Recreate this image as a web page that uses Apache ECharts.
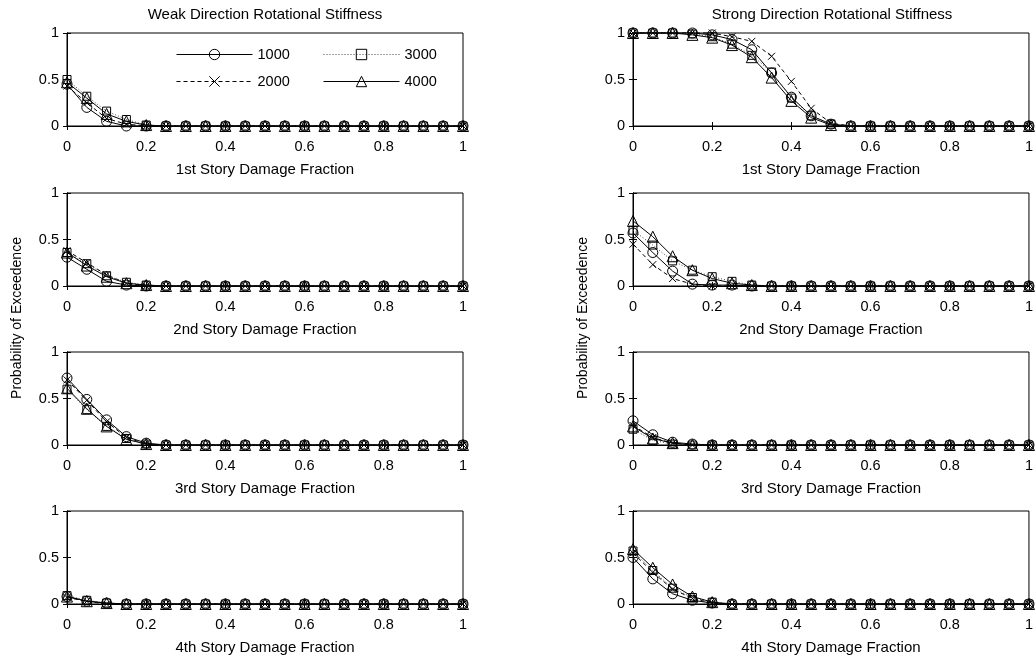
<!DOCTYPE html>
<html><head><meta charset="utf-8">
<script src="https://cdn.jsdelivr.net/npm/echarts@6/dist/echarts.min.js"></script>
<style>html,body{margin:0;padding:0;background:#fff}#c{width:1036px;height:660px}</style>
</head><body><div id="c"></div>
<script>
const damageFraction = [0,0.05,0.1,0.15,0.2,0.25,0.3,0.35,0.4,0.45,0.5,0.55,0.6,0.65,0.7,0.75,0.8,0.85,0.9,0.95,1];
const seriesNames = ['1000','2000','3000','4000'];
const storyLabels = ['1st Story Damage Fraction','2nd Story Damage Fraction','3rd Story Damage Fraction','4th Story Damage Fraction'];
const columnTitles = ['Weak Direction Rotational Stiffness','Strong Direction Rotational Stiffness'];
const yAxisLabel = 'Probability of Exceedence';

const weak1_1000 = [0.45,0.20,0.05,0.00,0,0,0,0,0,0,0,0,0,0,0,0,0,0,0,0,0];
const weak1_2000 = [0.43,0.25,0.08,0.02,0,0,0,0,0,0,0,0,0,0,0,0,0,0,0,0,0];
const weak1_3000 = [0.50,0.32,0.16,0.07,0.01,0,0,0,0,0,0,0,0,0,0,0,0,0,0,0,0];
const weak1_4000 = [0.47,0.30,0.13,0.05,0.01,0,0,0,0,0,0,0,0,0,0,0,0,0,0,0,0];

const strong1_1000 = [1,1,1,1,0.98,0.93,0.82,0.57,0.31,0.11,0.02,0,0,0,0,0,0,0,0,0,0];
const strong1_2000 = [1,1,1,1,1,0.96,0.91,0.75,0.48,0.19,0.03,0,0,0,0,0,0,0,0,0,0];
const strong1_3000 = [1,1,1,0.99,0.96,0.88,0.76,0.58,0.30,0.11,0.02,0,0,0,0,0,0,0,0,0,0];
const strong1_4000 = [1,1,1,0.98,0.95,0.87,0.74,0.52,0.27,0.09,0.01,0,0,0,0,0,0,0,0,0,0];

const weak2_1000 = [0.31,0.18,0.05,0.01,0,0,0,0,0,0,0,0,0,0,0,0,0,0,0,0,0];
const weak2_2000 = [0.38,0.25,0.12,0.03,0,0,0,0,0,0,0,0,0,0,0,0,0,0,0,0,0];
const weak2_3000 = [0.36,0.24,0.11,0.04,0.01,0,0,0,0,0,0,0,0,0,0,0,0,0,0,0,0];
const weak2_4000 = [0.36,0.22,0.10,0.03,0.01,0,0,0,0,0,0,0,0,0,0,0,0,0,0,0,0];

const strong2_1000 = [0.57,0.36,0.16,0.02,0.01,0.01,0,0,0,0,0,0,0,0,0,0,0,0,0,0,0];
const strong2_2000 = [0.45,0.23,0.08,0.02,0,0,0,0,0,0,0,0,0,0,0,0,0,0,0,0,0];
const strong2_3000 = [0.60,0.44,0.27,0.17,0.10,0.05,0.01,0,0,0,0,0,0,0,0,0,0,0,0,0,0];
const strong2_4000 = [0.70,0.53,0.32,0.17,0.08,0.03,0.01,0,0,0,0,0,0,0,0,0,0,0,0,0,0];

const weak3_1000 = [0.72,0.49,0.27,0.09,0.02,0,0,0,0,0,0,0,0,0,0,0,0,0,0,0,0];
const weak3_2000 = [0.70,0.48,0.25,0.08,0.01,0,0,0,0,0,0,0,0,0,0,0,0,0,0,0,0];
const weak3_3000 = [0.60,0.38,0.20,0.07,0.01,0,0,0,0,0,0,0,0,0,0,0,0,0,0,0,0];
const weak3_4000 = [0.61,0.39,0.20,0.06,0.01,0,0,0,0,0,0,0,0,0,0,0,0,0,0,0,0];

const strong3_1000 = [0.26,0.11,0.03,0.01,0,0,0,0,0,0,0,0,0,0,0,0,0,0,0,0,0];
const strong3_2000 = [0.21,0.08,0.02,0,0,0,0,0,0,0,0,0,0,0,0,0,0,0,0,0,0];
const strong3_3000 = [0.17,0.05,0.01,0,0,0,0,0,0,0,0,0,0,0,0,0,0,0,0,0,0];
const strong3_4000 = [0.20,0.07,0.02,0,0,0,0,0,0,0,0,0,0,0,0,0,0,0,0,0,0];

const weak4_1000 = [0.08,0.03,0.01,0,0,0,0,0,0,0,0,0,0,0,0,0,0,0,0,0,0];
const weak4_2000 = [0.07,0.03,0,0,0,0,0,0,0,0,0,0,0,0,0,0,0,0,0,0,0];
const weak4_3000 = [0.09,0.04,0.01,0,0,0,0,0,0,0,0,0,0,0,0,0,0,0,0,0,0];
const weak4_4000 = [0.08,0.03,0.01,0,0,0,0,0,0,0,0,0,0,0,0,0,0,0,0,0,0];

const strong4_1000 = [0.50,0.27,0.11,0.04,0.01,0,0,0,0,0,0,0,0,0,0,0,0,0,0,0,0];
const strong4_2000 = [0.55,0.34,0.16,0.06,0.01,0,0,0,0,0,0,0,0,0,0,0,0,0,0,0,0];
const strong4_3000 = [0.57,0.36,0.17,0.07,0.02,0,0,0,0,0,0,0,0,0,0,0,0,0,0,0,0];
const strong4_4000 = [0.59,0.39,0.21,0.08,0.02,0,0,0,0,0,0,0,0,0,0,0,0,0,0,0,0];

const panels = [
  [weak1_1000, weak1_2000, weak1_3000, weak1_4000],
  [strong1_1000, strong1_2000, strong1_3000, strong1_4000],
  [weak2_1000, weak2_2000, weak2_3000, weak2_4000],
  [strong2_1000, strong2_2000, strong2_3000, strong2_4000],
  [weak3_1000, weak3_2000, weak3_3000, weak3_4000],
  [strong3_1000, strong3_2000, strong3_3000, strong3_4000],
  [weak4_1000, weak4_2000, weak4_3000, weak4_4000],
  [strong4_1000, strong4_2000, strong4_3000, strong4_4000]
];

const FONT = '"Liberation Sans", Arial, Helvetica, sans-serif';
const FS_TICK = 14.5, FS_NAME = 15, FS_TITLE = 15, FS_YLAB = 14;
const gridTops = [33, 193, 352, 511];
const gridH = 93;
const colLeft = [67, 633];
const colW = [396, 398];

const styles = [
  {symbol:'circle', size:10, type:'solid', color:'#000'},
  {symbol:'path://M0,0L10,10M10,0L0,10', size:7, type:[4, 3], color:'#000'},
  {symbol:'rect', size:8, type:[1, 2], color:'#444'},
  {symbol:'triangle', size:11, type:'solid', color:'#000'}
];

const grid = [], xAxis = [], yAxis = [], series = [];
panels.forEach((p, i) => {
  const r = Math.floor(i / 2), c = i % 2;
  grid.push({left: colLeft[c], top: gridTops[r], width: colW[c], height: gridH,
    show: true, borderColor: '#000', borderWidth: 1, backgroundColor: 'transparent'});
  const axisLine = {show: true, lineStyle: {color: '#000', width: 1}};
  const tick = {show: true, inside: true, length: 4, lineStyle: {color: '#000'}};
  xAxis.push({type: 'value', gridIndex: i, min: 0, max: 1, interval: 0.2, position: 'bottom',
    axisLine, axisTick: tick,
    axisLabel: {color: '#000', fontSize: FS_TICK, fontFamily: FONT, margin: 13},
    splitLine: {show: false},
    name: storyLabels[r], nameLocation: 'middle', nameGap: 36,
    nameTextStyle: {color: '#000', fontSize: FS_NAME, fontFamily: FONT}});
  xAxis.push({type: 'value', gridIndex: i, min: 0, max: 1, interval: 0.2, position: 'top',
    axisLine, axisTick: tick, axisLabel: {show: false}, splitLine: {show: false}});
  yAxis.push({type: 'value', gridIndex: i, min: 0, max: 1, interval: 0.5, position: 'left',
    axisLine, axisTick: tick,
    axisLabel: {color: '#000', fontSize: FS_TICK, fontFamily: FONT, margin: 8},
    splitLine: {show: false}});
  yAxis.push({type: 'value', gridIndex: i, min: 0, max: 1, interval: 0.5, position: 'right',
    axisLine, axisTick: tick, axisLabel: {show: false}, splitLine: {show: false}});
  p.forEach((vals, k) => {
    const st = styles[k];
    series.push({
      type: 'line', name: seriesNames[k], xAxisIndex: 2 * i, yAxisIndex: 2 * i,
      data: damageFraction.map((x, j) => [x, vals[j]]),
      symbol: st.symbol, symbolSize: st.size, showAllSymbol: true, clip: false,
      lineStyle: {color: st.color, width: 1, type: st.type},
      itemStyle: {color: 'rgba(255,255,255,0)', borderColor: '#000', borderWidth: 1},
      emphasis: {disabled: true}, animation: false, z: 2 + k
    });
  });
});

const legendCommon = {orient: 'vertical', itemWidth: 76, itemHeight: 13, itemGap: 12,
  lineStyle: {width: 1}, itemStyle: {borderWidth: 1},
  textStyle: {color: '#000', fontSize: FS_TICK, fontFamily: FONT}, selectedMode: false};

const textStyle = (t, fs) => ({text: t, align: 'center', verticalAlign: 'middle', textAlign: 'center',
  textVerticalAlign: 'middle', font: fs + 'px ' + FONT, fill: '#000'});

const option = {
  animation: false,
  backgroundColor: '#fff',
  grid, xAxis, yAxis, series,
  legend: [
    Object.assign({data: ['1000', '2000'], left: 171, top: 42}, legendCommon),
    Object.assign({data: ['3000', '4000'], left: 318, top: 42}, legendCommon)
  ],
  graphic: [
    {type: 'text', x: 265, y: 15, style: textStyle(columnTitles[0], FS_TITLE)},
    {type: 'text', x: 832, y: 15, style: textStyle(columnTitles[1], FS_TITLE)},
    {type: 'text', x: 17, y: 318, rotation: Math.PI / 2, style: textStyle(yAxisLabel, FS_YLAB)},
    {type: 'text', x: 583, y: 318, rotation: Math.PI / 2, style: textStyle(yAxisLabel, FS_YLAB)}
  ]
};
const chart = echarts.init(document.getElementById('c'), null, {renderer: 'canvas'});
chart.setOption(option);
</script></body></html>
